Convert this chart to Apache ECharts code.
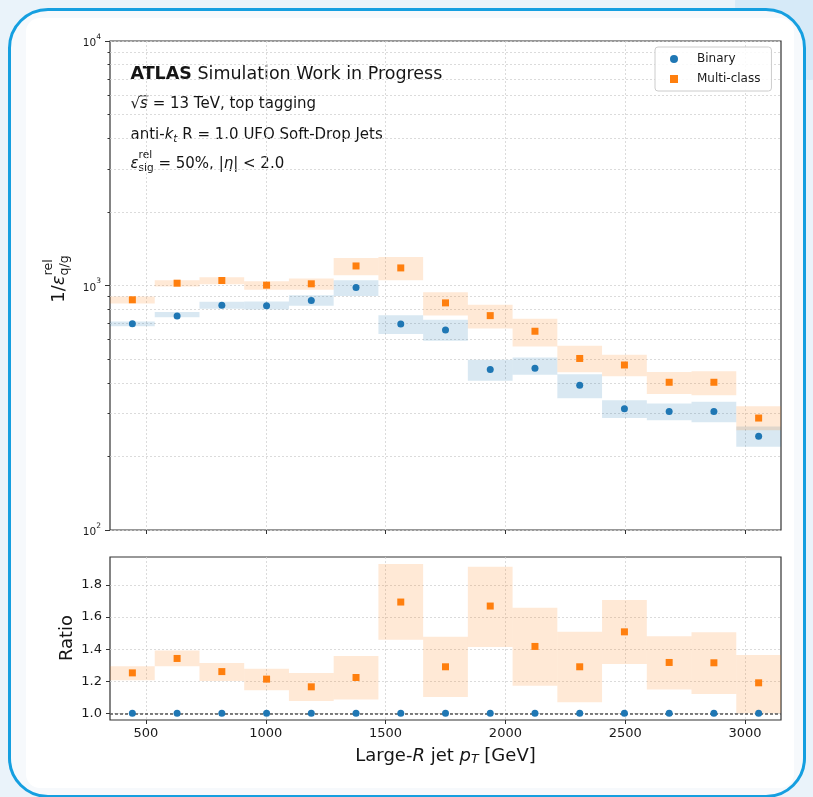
<!DOCTYPE html>
<html><head><meta charset="utf-8">
<script src="https://cdn.jsdelivr.net/npm/echarts@6/dist/echarts.min.js"></script>
<style>
html,body{margin:0;padding:0;width:813px;height:797px;overflow:hidden;background:#eaf3fa;}
#blob{position:absolute;left:735px;top:-70px;width:150px;height:150px;border-radius:50%;background:#d6eaf8;}
#frame{position:absolute;left:8px;top:8px;height:790px;border:3.5px solid #159fe0;border-radius:40px;background:#f6f9fc;box-sizing:border-box;width:798px;}
#fig{position:absolute;left:26px;top:18px;width:768px;height:770px;background:#ffffff;border-radius:14px;}
#chart{position:absolute;left:0;top:0;width:813px;height:797px;}
</style></head>
<body>
<div id="blob"></div><div id="frame"></div><div id="fig"></div>
<div id="chart"></div>
<script>
// ---------------- data ----------------
const binEdges = [350, 536.67, 723.33, 910, 1096.67, 1283.33, 1470, 1656.67, 1843.33, 2030, 2216.67, 2403.33, 2590, 2776.67, 2963.33, 3150];
const binaryEff = [698, 750, 831, 827, 869, 981, 696, 658, 453, 459, 391, 313, 305, 305, 242];
const binaryLo  = [681, 741, 804, 797, 827, 905, 634, 594, 408, 431, 346, 287, 281, 276, 219];
const binaryHi  = [712, 779, 858, 861, 913, 1051, 755, 724, 497, 508, 434, 339, 329, 335, 265];
const multiEff  = [874, 1022, 1048, 1003, 1016, 1202, 1180, 849, 753, 650, 503, 473, 402, 402, 287];
const multiLo   = [845, 991, 1012, 961, 961, 1101, 1051, 754, 667, 563, 442, 425, 360, 356, 256];
const multiHi   = [902, 1051, 1081, 1041, 1068, 1296, 1308, 939, 835, 732, 567, 521, 443, 446, 321];
const ratioBinary = [1, 1, 1, 1, 1, 1, 1, 1, 1, 1, 1, 1, 1, 1, 1];
const ratioMulti  = [1.252, 1.342, 1.26, 1.213, 1.165, 1.223, 1.694, 1.29, 1.669, 1.417, 1.29, 1.508, 1.317, 1.315, 1.19];
const ratioLo     = [1.206, 1.294, 1.202, 1.144, 1.077, 1.086, 1.458, 1.102, 1.414, 1.171, 1.069, 1.308, 1.148, 1.121, 1.0];
const ratioHi     = [1.294, 1.392, 1.314, 1.277, 1.252, 1.358, 1.931, 1.477, 1.914, 1.658, 1.508, 1.706, 1.481, 1.506, 1.363];
const xTicks = [500, 1000, 1500, 2000, 2500, 3000];
const yMajorTicks = [100, 1000, 10000];
const yMinorTicks = [200, 300, 400, 500, 600, 700, 800, 900, 2000, 3000, 4000, 5000, 6000, 7000, 8000, 9000];
const ratioTicks = [1.0, 1.2, 1.4, 1.6, 1.8];
const seriesNames = ['Binary', 'Multi-class'];

// ---------------- helpers ----------------
const BLUE = '#1f77b4', ORANGE = '#ff7f0e';
const centers = binEdges.slice(0, -1).map((e, i) => (e + binEdges[i + 1]) / 2);
const pts = (vals) => vals.map((v, i) => [centers[i], v]);
const bands = (lo, hi) => lo.map((l, i) => [binEdges[i], binEdges[i + 1], l, hi[i]]);

const mctx = document.createElement('canvas').getContext('2d');
function fontStr(p) { return (p.italic ? 'italic ' : '') + (p.bold ? 'bold ' : '') + p.size + 'px "DejaVu Sans"'; }
function midOff(font) { mctx.font = font; mctx.textBaseline = 'middle'; return mctx.measureText('H').actualBoundingBoxDescent; }
function textGroup(pieces, x, y, opt) {
  opt = opt || {};
  let cur = 0, prevStart = 0; const items = [];
  pieces.forEach(p => {
    const f = fontStr(p); mctx.font = f; mctx.textBaseline = 'alphabetic';
    const w = mctx.measureText(p.t).width;
    const sx = p.stack ? prevStart : cur;
    items.push({ p, f, sx, w });
    prevStart = sx;
    cur = Math.max(cur, sx + w);
  });
  const shift = opt.center ? -cur / 2 : 0;
  const children = [];
  items.forEach(it => {
    children.push({ type: 'text', x: it.sx + shift, y: (it.p.dy || 0) - midOff(it.f),
      style: { text: it.p.t, font: it.f, fill: '#151515', align: 'left', verticalAlign: 'middle', textAlign: 'left', textVerticalAlign: 'middle' } });
    if (it.p.over) {
      children.push({ type: 'line', shape: { x1: it.sx + shift - 0.5, y1: -0.8 * it.p.size, x2: it.sx + shift + it.w + 0.5, y2: -0.8 * it.p.size },
        style: { stroke: '#151515', lineWidth: 1 } });
    }
  });
  return { type: 'group', x: x, y: y, rotation: opt.rot || 0, z: 100, children: children };
}

const graphics = [
  textGroup([{ t: 'ATLAS', size: 17.5, bold: true }, { t: ' Simulation Work in Progress', size: 17.5 }], 130.5, 79.3),
  textGroup([{ t: '√', size: 15 }, { t: 's', size: 15, italic: true, over: true }, { t: ' = 13 TeV, top tagging', size: 15 }], 130.5, 107.8),
  textGroup([{ t: 'anti-', size: 15 }, { t: 'k', size: 15, italic: true }, { t: 't', size: 10.5, italic: true, dy: 2.5 },
             { t: ' R = 1.0 UFO Soft-Drop Jets', size: 15 }], 130.5, 139),
  textGroup([{ t: 'ε', size: 15, italic: true }, { t: 'rel', size: 10.5, dy: -10 }, { t: 'sig', size: 10.5, dy: 3, stack: true },
             { t: ' = 50%, |', size: 15 }, { t: 'η', size: 15, italic: true }, { t: '| < 2.0', size: 15 }], 130.5, 167.7),
  textGroup([{ t: '1/', size: 18 }, { t: 'ε', size: 18, italic: true }, { t: 'rel', size: 12.6, dy: -12 }, { t: 'q/g', size: 12.6, dy: 4, stack: true }],
            63.5, 279, { rot: Math.PI / 2, center: true }),
  textGroup([{ t: 'Ratio', size: 18 }], 71.7, 638, { rot: Math.PI / 2, center: true }),
  textGroup([{ t: 'Large-', size: 18 }, { t: 'R', size: 18, italic: true }, { t: ' jet ', size: 18 }, { t: 'p', size: 18, italic: true },
             { t: 'T', size: 12.6, italic: true, dy: 2.7 }, { t: ' [GeV]', size: 18 }], 445.5, 760.7, { center: true })
];

function bandRender(params, api) {
  const p0 = api.coord([api.value(0), api.value(3)]);
  const p1 = api.coord([api.value(1), api.value(2)]);
  return { type: 'rect', shape: { x: p0[0], y: p0[1], width: p1[0] - p0[0], height: p1[1] - p0[1] },
    style: { fill: api.visual('color'), opacity: 0.17 } };
}

const gridLine = { show: true, lineStyle: { color: '#d2d2d2', width: 0.8, type: [2, 2] } };
const tickStyle = { color: '#333', width: 1 };
const labelFont = { fontFamily: 'DejaVu Sans', color: '#1a1a1a' };

const option = {
  animation: false,
  textStyle: { fontFamily: 'DejaVu Sans' },
  grid: [
    { left: 110, top: 41, width: 671, height: 489, show: true, borderColor: '#333', borderWidth: 1.2, backgroundColor: 'transparent' },
    { left: 110, top: 557, width: 671, height: 163, show: true, borderColor: '#333', borderWidth: 1.2, backgroundColor: 'transparent' }
  ],
  legend: {
    orient: 'vertical', left: 655, top: 47, padding: [5, 11, 5, 15], itemWidth: 8, itemHeight: 8, itemGap: 6,
    selectedMode: false, borderColor: '#cccccc', borderWidth: 1, borderRadius: 3, backgroundColor: 'rgba(255,255,255,0.85)',
    textStyle: Object.assign({ fontSize: 12, padding: [0, 0, 0, 14], lineHeight: 14 }, labelFont),
    data: [{ name: seriesNames[0], icon: 'circle' }, { name: seriesNames[1], icon: 'rect' }]
  },
  xAxis: [
    { gridIndex: 0, type: 'value', min: 350, max: 3150, axisLine: { show: false },
      axisTick: { show: true, customValues: xTicks, length: 4, lineStyle: tickStyle },
      axisLabel: { show: false, customValues: xTicks }, splitLine: gridLine },
    { gridIndex: 1, type: 'value', min: 350, max: 3150, axisLine: { show: false },
      axisTick: { show: true, customValues: xTicks, length: 4, lineStyle: tickStyle },
      axisLabel: Object.assign({ show: true, customValues: xTicks, fontSize: 13, margin: 7, formatter: v => String(Math.round(v)) }, labelFont),
      splitLine: gridLine }
  ],
  yAxis: [
    { gridIndex: 0, type: 'log', logBase: 10, min: 100, max: 10000, position: 'left', axisLine: { show: false },
      axisTick: { show: true, customValues: yMajorTicks, length: 5, lineStyle: tickStyle },
      axisLabel: { show: true, customValues: yMajorTicks, margin: 9,
        formatter: v => '{b|10}{s|' + Math.round(Math.log10(v)) + '}',
        rich: { b: Object.assign({ fontSize: 10.5, lineHeight: 16, verticalAlign: 'bottom' }, labelFont),
                s: Object.assign({ fontSize: 7.5, lineHeight: 9, verticalAlign: 'top' }, labelFont) } },
      splitLine: gridLine },
    { gridIndex: 0, type: 'log', logBase: 10, min: 100, max: 10000, position: 'left', axisLine: { show: false },
      axisTick: { show: true, customValues: yMinorTicks, length: 2.5, lineStyle: tickStyle },
      axisLabel: { show: false, customValues: yMinorTicks }, splitLine: gridLine },
    { gridIndex: 1, type: 'value', min: 0.958, max: 1.975, axisLine: { show: false },
      axisTick: { show: true, customValues: ratioTicks, length: 4, lineStyle: tickStyle },
      axisLabel: Object.assign({ show: true, customValues: ratioTicks, fontSize: 13, margin: 8, formatter: v => v.toFixed(1) }, labelFont),
      splitLine: gridLine }
  ],
  graphic: graphics,
  series: [
    { type: 'custom', name: 'binaryBand', xAxisIndex: 0, yAxisIndex: 0, renderItem: bandRender, itemStyle: { color: BLUE },
      encode: { x: [0, 1], y: [2, 3] }, data: bands(binaryLo, binaryHi), z: 1, silent: true },
    { type: 'custom', name: 'multiBand', xAxisIndex: 0, yAxisIndex: 0, renderItem: bandRender, itemStyle: { color: ORANGE },
      encode: { x: [0, 1], y: [2, 3] }, data: bands(multiLo, multiHi), z: 1, silent: true },
    { type: 'custom', name: 'ratioBand', xAxisIndex: 1, yAxisIndex: 2, renderItem: bandRender, itemStyle: { color: ORANGE },
      encode: { x: [0, 1], y: [2, 3] }, data: bands(ratioLo, ratioHi), z: 1, silent: true },
    { type: 'scatter', name: seriesNames[0], xAxisIndex: 0, yAxisIndex: 0, symbol: 'circle', symbolSize: 7,
      itemStyle: { color: BLUE, opacity: 1 }, data: pts(binaryEff), z: 5 },
    { type: 'scatter', name: seriesNames[1], xAxisIndex: 0, yAxisIndex: 0, symbol: 'rect', symbolSize: 7,
      itemStyle: { color: ORANGE, opacity: 1 }, data: pts(multiEff), z: 5 },
    { type: 'scatter', name: seriesNames[0], xAxisIndex: 1, yAxisIndex: 2, symbol: 'circle', symbolSize: 7,
      itemStyle: { color: BLUE, opacity: 1 }, data: pts(ratioBinary), z: 5,
      markLine: { silent: true, symbol: 'none', label: { show: false }, z: 3,
        lineStyle: { color: '#555', width: 1.5, type: [3, 2] }, data: [{ yAxis: 1 }] } },
    { type: 'scatter', name: seriesNames[1], xAxisIndex: 1, yAxisIndex: 2, symbol: 'rect', symbolSize: 7,
      itemStyle: { color: ORANGE, opacity: 1 }, data: pts(ratioMulti), z: 5 }
  ]
};
const chart = echarts.init(document.getElementById('chart'), null, { renderer: 'canvas' });
chart.setOption(option);
</script>
</body></html>
